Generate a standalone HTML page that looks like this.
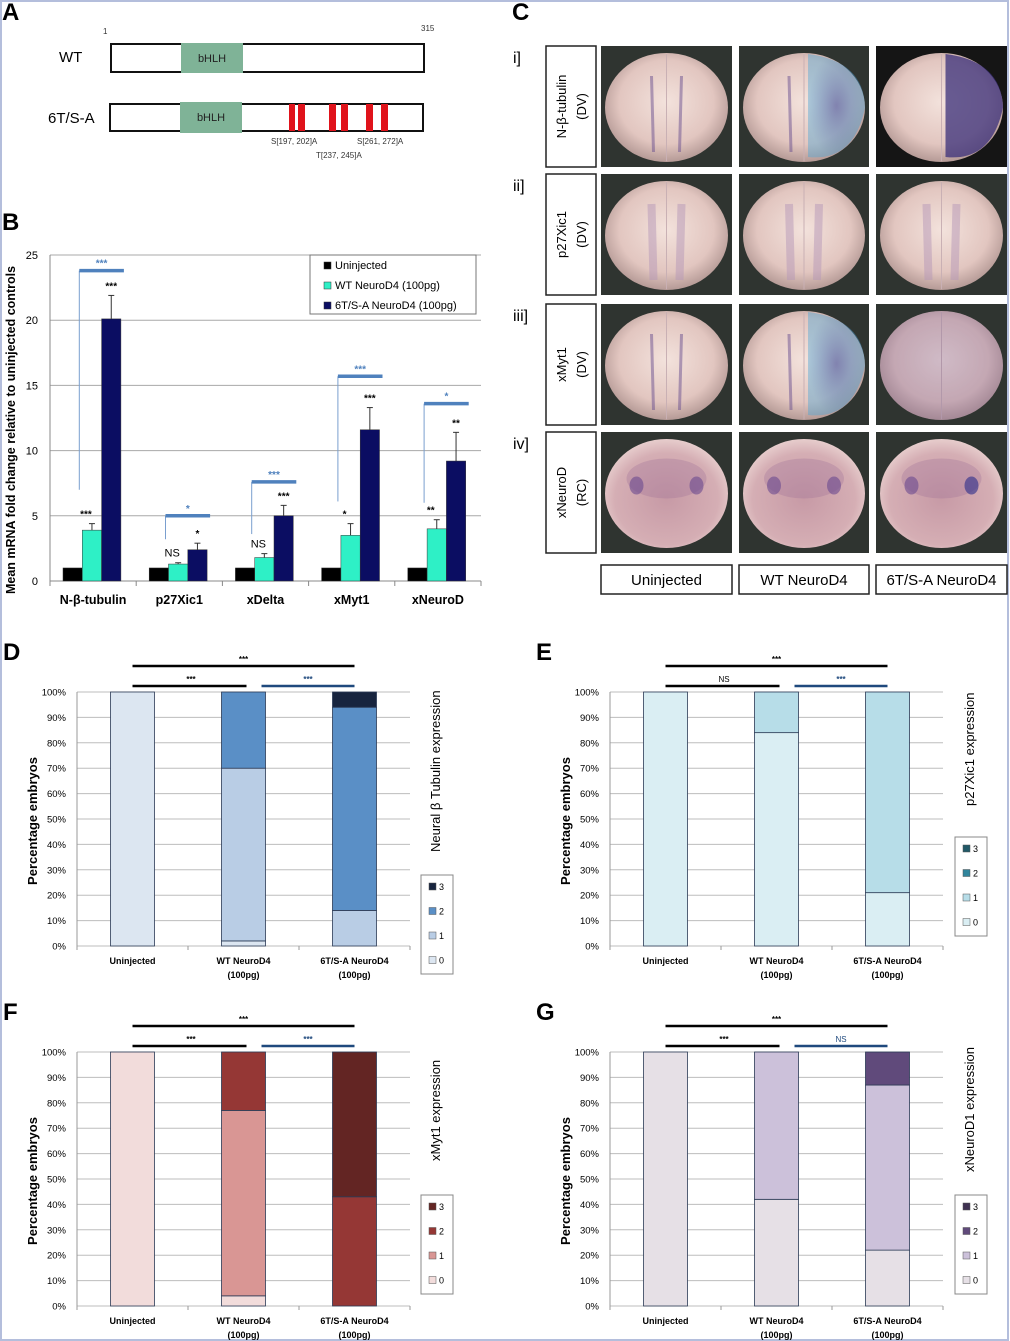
<!DOCTYPE html>
<html><head><meta charset="utf-8">
<style>
html,body{margin:0;padding:0;background:#fff;}
svg{display:block;font-family:"Liberation Sans",sans-serif;}
</style></head>
<body>
<svg id="fig" width="1010" height="1341" viewBox="0 0 1010 1341" xmlns="http://www.w3.org/2000/svg">
<defs>
<radialGradient id="emb" cx="0.5" cy="0.45" r="0.55">
<stop offset="0" stop-color="#f3e2dc"/><stop offset="0.7" stop-color="#e2c6c0"/><stop offset="1" stop-color="#b59a96"/>
</radialGradient>
<radialGradient id="embRC" cx="0.5" cy="0.55" r="0.6">
<stop offset="0" stop-color="#c79aa6"/><stop offset="0.7" stop-color="#d5aeb4"/><stop offset="1" stop-color="#eed9d6"/>
</radialGradient>
<radialGradient id="blu" cx="0.5" cy="0.5" r="0.5">
<stop offset="0" stop-color="#3c4f9e" stop-opacity="0.85"/><stop offset="1" stop-color="#4aa6d6" stop-opacity="0.6"/>
</radialGradient>
</defs>
<rect x="0" y="0" width="1010" height="1341" fill="#fff"/>
<rect x="1" y="1" width="1007" height="1339" fill="none" stroke="#b4bedc" stroke-width="2"/>

<!-- Panel A -->
<g>
<text x="2" y="20" font-size="24" font-weight="bold">A</text>
<text x="103" y="34" font-size="8" fill="#333">1</text>
<text x="421" y="31" font-size="8" fill="#333">315</text>
<text x="59" y="62" font-size="15">WT</text>
<rect x="111" y="44" width="313" height="28" fill="#fff" stroke="#111" stroke-width="2"/>
<rect x="181" y="43" width="62" height="30" fill="#7fb397"/>
<text x="212" y="62" font-size="11" text-anchor="middle" fill="#222">bHLH</text>
<text x="48" y="123" font-size="15">6T/S-A</text>
<rect x="110" y="104" width="313" height="27" fill="#fff" stroke="#111" stroke-width="2"/>
<rect x="180" y="102" width="62" height="31" fill="#7fb397"/>
<text x="211" y="121" font-size="11" text-anchor="middle" fill="#222">bHLH</text>
<g fill="#e0131b">
<rect x="289" y="104" width="6" height="27"/><rect x="298" y="104" width="7" height="27"/>
<rect x="329" y="104" width="7" height="27"/><rect x="341" y="104" width="7" height="27"/>
<rect x="366" y="104" width="7" height="27"/><rect x="381" y="104" width="7" height="27"/>
</g>
<text x="271" y="144" font-size="8" fill="#333">S[197, 202]A</text>
<text x="357" y="144" font-size="8" fill="#333">S[261, 272]A</text>
<text x="316" y="158" font-size="8" fill="#333">T[237, 245]A</text>
</g>

<!-- Panel B -->
<g id="panelB">
<text x="2" y="230" font-size="24" font-weight="bold">B</text>
</g>

<!-- Panel C -->
<g id="panelC">
<text x="512" y="20" font-size="24" font-weight="bold">C</text>
</g>

<g id="panelD"></g>
<g id="panelE"></g>
<g id="panelF"></g>
<g id="panelG"></g>
</svg>
<script>
// ---- Panel B data ----
const bCategories = ["N-β-tubulin","p27Xic1","xDelta","xMyt1","xNeuroD"];
const bSeriesNames = ["Uninjected","WT NeuroD4 (100pg)","6T/S-A NeuroD4 (100pg)"];
const bUninjected = [1,1,1,1,1];
const bWT = [3.9,1.3,1.8,3.5,4.0];
const bMutant = [20.1,2.4,5.0,11.6,9.2];
const bWTErr = [0.5,0.1,0.3,0.9,0.7];
const bMutantErr = [1.8,0.5,0.8,1.7,2.2];
const bWTSig = ["***","NS","NS","*","**"];
const bMutantSig = ["***","*","***","***","**"];
const bBracketSig = ["***","*","***","***","*"];
const bBracketLevel = [23.8,5.0,7.6,15.7,13.6];
const bBracketLow = [7.0,3.2,3.6,6.1,6.0];
const bTicks = [0,5,10,15,20,25];

// ---- Stacked data (levels 0..3 per group) ----
const groups = ["Uninjected","WT NeuroD4","6T/S-A NeuroD4"];
const dLevel0 = [100,2,0];  const dLevel1 = [0,68,14];  const dLevel2 = [0,30,80];  const dLevel3 = [0,0,6];
const eLevel0 = [100,84,21]; const eLevel1 = [0,16,79]; const eLevel2 = [0,0,0];   const eLevel3 = [0,0,0];
const fLevel0 = [100,4,0];  const fLevel1 = [0,73,0];  const fLevel2 = [0,23,43]; const fLevel3 = [0,0,57];
const gLevel0 = [100,42,22]; const gLevel1 = [0,58,65]; const gLevel2 = [0,0,13]; const gLevel3 = [0,0,0];
const pctTicks = [0,10,20,30,40,50,60,70,80,90,100];

const NS = "http://www.w3.org/2000/svg";
function el(tag, attrs, parent, txt){
  const e = document.createElementNS(NS, tag);
  for (const k in attrs) e.setAttribute(k, attrs[k]);
  if (txt !== undefined) e.textContent = txt;
  parent.appendChild(e);
  return e;
}

// ---------- Panel B ----------
(function(){
  const g = document.getElementById('panelB');
  const X0 = 50, X1 = 481, Y0 = 581, pxPerUnit = 13.04;
  const y = v => Y0 - v*pxPerUnit;
  const catW = (X1-X0)/bCategories.length;
  const barW = 19.3;
  const bx = (i,s) => X0 + i*catW + 13 + s*barW;
  bTicks.forEach(t=>{
    if (t>0) el('line',{x1:X0,x2:X1,y1:y(t),y2:y(t),stroke:'#a8a8a8','stroke-width':1},g);
    const tl = el('text',{x:X0-12,y:y(t)+4,'font-size':11,'text-anchor':'end'},g,String(t));
    
    
  });
  el('line',{x1:X0,x2:X0,y1:y(25),y2:Y0+4,stroke:'#888'},g);
  el('line',{x1:X0,x2:X1,y1:Y0,y2:Y0,stroke:'#888'},g);
  for (let i=0;i<=bCategories.length;i++) el('line',{x1:X0+i*catW,x2:X0+i*catW,y1:Y0,y2:Y0+5,stroke:'#888'},g);
  const series = [bUninjected,bWT,bMutant];
  const cols = ['#000','#2ef0c6','#0b0d62'];
  bCategories.forEach((c,i)=>{
    series.forEach((arr,s)=>{
      const r = el('rect',{x:bx(i,s),y:y(arr[i]),width:barW,height:arr[i]*pxPerUnit,fill:cols[s],stroke:'#333','stroke-width':0.5},g);
      
      
    });
    [[bWT,bWTErr,1],[bMutant,bMutantErr,2]].forEach(([arr,err,s])=>{
      const cx = bx(i,s)+barW/2;
      el('line',{x1:cx,x2:cx,y1:y(arr[i]),y2:y(arr[i]+err[i]),stroke:'#333'},g);
      el('line',{x1:cx-3,x2:cx+3,y1:y(arr[i]+err[i]),y2:y(arr[i]+err[i]),stroke:'#333'},g);
    });
    const w1 = el('text',{x:bx(i,1)+barW/2-6,y:y(bWT[i]+bWTErr[i])-6,'font-size':bWTSig[i]==='NS'?11:10,'font-weight':bWTSig[i]==='NS'?'normal':'bold','text-anchor':'middle'},g,bWTSig[i]);
    
    
    const w2 = el('text',{x:bx(i,2)+barW/2,y:y(bMutant[i]+bMutantErr[i])-6,'font-size':10,'font-weight':'bold','text-anchor':'middle'},g,bMutantSig[i]);
    
    
    const lx = bx(i,1)-3, rx = bx(i,2)+barW+3;
    el('line',{x1:lx,x2:lx,y1:y(bBracketLow[i]),y2:y(bBracketLevel[i]),stroke:'#7a9fcf','stroke-width':1},g);
    const br = el('line',{x1:lx,x2:rx,y1:y(bBracketLevel[i]),y2:y(bBracketLevel[i]),stroke:'#4f81bd','stroke-width':3.5},g);
    
    
    el('text',{x:(lx+rx)/2,y:y(bBracketLevel[i])-4,'font-size':10,'font-weight':'bold',fill:'#4f81bd','text-anchor':'middle'},g,bBracketSig[i]);
    const xl = el('text',{x:X0+i*catW+catW/2,y:604,'font-size':12.5,'font-weight':'bold','text-anchor':'middle'},g,c);
    
    
  });
  const yt = el('text',{x:0,y:0,'font-size':12.5,'font-weight':'bold','text-anchor':'middle',transform:'translate(15,430) rotate(-90)'},g,'Mean mRNA fold change relative to uninjected controls');
  
  
  const lg = el('g',{},g);
  
  
  el('rect',{x:310,y:255,width:166,height:59,fill:'#fff',stroke:'#777'},lg);
  bSeriesNames.forEach((n,s)=>{
    el('rect',{x:324,y:262+s*20,width:7,height:7,fill:cols[s],stroke:'#333','stroke-width':0.5},lg);
    el('text',{x:335,y:269+s*20,'font-size':11},lg,n);
  });
})();

// ---------- Panel C ----------
(function(){
  const g = document.getElementById('panelC');
  const rows = [{y:46,h:121,num:'i]',lab:'N-β-tubulin',sub:'(DV)'},{y:174,h:121,num:'ii]',lab:'p27Xic1',sub:'(DV)'},{y:304,h:121,num:'iii]',lab:'xMyt1',sub:'(DV)'},{y:432,h:121,num:'iv]',lab:'xNeuroD',sub:'(RC)'}];
  const cols = [{x:601,w:131},{x:739,w:130},{x:876,w:131}];
  rows.forEach((r,ri)=>{
    el('text',{x:513,y:r.y+17,'font-size':16},g,r.num);
    const b = el('rect',{x:546,y:r.y,width:50,height:r.h,fill:'#fff',stroke:'#222','stroke-width':1.5},g);
    
    
    el('text',{x:0,y:0,'font-size':13,'text-anchor':'middle',transform:`translate(${566},${r.y+r.h/2}) rotate(-90)`},g,r.lab);
    el('text',{x:0,y:0,'font-size':13,'text-anchor':'middle',transform:`translate(${586},${r.y+r.h/2}) rotate(-90)`},g,r.sub);
    cols.forEach((c,ci)=>{
      const im = el('g',{},g);
      
      
      el('rect',{x:c.x,y:r.y,width:c.w,height:r.h,fill:(ri===0&&ci===2)?'#151515':'#2f3430'},im);
      const cx=c.x+c.w/2, cy=r.y+r.h/2+1;
      el('ellipse',{cx:cx,cy:cy,rx:c.w/2-4,ry:r.h/2-6,fill:ri===3?'url(#embRC)':'url(#emb)'},im);
      if (ri<3){
        el('line',{x1:cx,x2:cx,y1:r.y+8,y2:r.y+r.h-6,stroke:'#c9b0b4','stroke-width':1},im);
        const sw = ri===1?8:3, col= ri===1?'#b597b8':'#6a4f90';
        if (!(ri!==1 && ci===2)) {
          el('line',{x1:cx-15,x2:cx-13,y1:r.y+30,y2:r.y+r.h-15,stroke:col,'stroke-width':sw,'stroke-opacity':0.5},im);
          if (ci===0 || ri===1) el('line',{x1:cx+15,x2:cx+13,y1:r.y+30,y2:r.y+r.h-15,stroke:col,'stroke-width':sw,'stroke-opacity':0.5},im);
        }
        if (ci>0 && ri!==1 && !(ri===2&&ci===2)){
          el('path',{d:`M${cx+4},${r.y+8} Q${cx+60},${r.y+15} ${c.x+c.w-4},${cy} Q${cx+50},${r.y+r.h-5} ${cx+4},${r.y+r.h-10} Z`,fill:ri===0&&ci===2?'#3a2f7a':'url(#blu)',opacity:ci===2?0.75:0.7},im);
        }
        if (ri===2 && ci===2) el('ellipse',{cx:cx,cy:cy,rx:c.w/2-4,ry:r.h/2-6,fill:'#7d5f96',opacity:0.3},im);
      } else {
        el('ellipse',{cx:cx,cy:cy-15,rx:40,ry:20,fill:'#9b6d95',opacity:0.3},im);
        el('ellipse',{cx:cx-30,cy:cy-8,rx:7,ry:9,fill:'#6b4a8f',opacity:0.6},im);
        el('ellipse',{cx:cx+30,cy:cy-8,rx:7,ry:9,fill:ci===2?'#2a2c8a':'#6b4a8f',opacity:0.6},im);
      }
    });
  });
  ['Uninjected','WT NeuroD4','6T/S-A NeuroD4'].forEach((t,ci)=>{
    const c = cols[ci];
    const b = el('rect',{x:c.x,y:565,width:c.w,height:29,fill:'#fff',stroke:'#222','stroke-width':1.5},g);
    
    
    el('text',{x:c.x+c.w/2,y:585,'font-size':15,'text-anchor':'middle'},g,t);
  });
})();

// ---------- Stacked panels ----------
function stacked(id, letter, ox, oy, levels, colors, sig, rightTitle, legX, legY, titleBottom){
  const g = document.getElementById(id);
  const L = ox+77, T = oy+692, H = 254, W = 333;
  const y = p => T + H - p/100*H;
  const catW = W/groups.length, bw = 44;
  el('text',{x:ox+3,y:oy+660,'font-size':24,'font-weight':'bold'},g,letter);
  pctTicks.forEach(t=>{
    el('line',{x1:L,x2:L+W,y1:y(t),y2:y(t),stroke:'#bdbdbd'},g);
    const tl = el('text',{x:L-11,y:y(t)+3.5,'font-size':9.5,'text-anchor':'end'},g,t+'%');
    
    
  });
  el('line',{x1:L,x2:L,y1:T,y2:T+H+4,stroke:'#999'},g);
  for (let i=0;i<=3;i++) el('line',{x1:L+i*catW,x2:L+i*catW,y1:T+H,y2:T+H+4,stroke:'#999'},g);
  groups.forEach((gr,i)=>{
    let acc=0;
    const x = L + i*catW + catW/2 - bw/2;
    levels.forEach((arr,lv)=>{
      const v = arr[i];
      if (v<=0) return;
      const r = el('rect',{x:x,y:y(acc+v),width:bw,height:v/100*H,fill:colors[lv],stroke:'#2b3a55','stroke-width':0.8},g);
      
      
      acc+=v;
    });
    const cx = L + i*catW + catW/2;
    el('text',{x:cx,y:T+H+18,'font-size':9,'font-weight':'bold','text-anchor':'middle'},g,gr);
    if (i>0) el('text',{x:cx,y:T+H+32,'font-size':9,'font-weight':'bold','text-anchor':'middle'},g,'(100pg)');
  });
  const c0 = L+catW/2, c1 = L+catW*1.5, c2 = L+catW*2.5;
  el('line',{x1:c0,x2:c2,y1:T-26,y2:T-26,stroke:'#000','stroke-width':2.5},g);
  el('text',{x:(c0+c2)/2,y:T-30,'font-size':8,'font-weight':'bold','text-anchor':'middle'},g,sig[0]);
  el('line',{x1:c0,x2:c1+3,y1:T-6,y2:T-6,stroke:'#000','stroke-width':2.5},g);
  el('text',{x:(c0+c1)/2+3,y:T-10,'font-size':8,'font-weight':sig[1]==='NS'?'normal':'bold','text-anchor':'middle'},g,sig[1]);
  el('line',{x1:c1+18,x2:c2,y1:T-6,y2:T-6,stroke:'#1f497d','stroke-width':2.5},g);
  el('text',{x:(c1+18+c2)/2,y:T-10,'font-size':8,'font-weight':sig[2]==='NS'?'normal':'bold',fill:'#1f497d','text-anchor':'middle'},g,sig[2]);
  const yt = el('text',{x:0,y:0,'font-size':13,'font-weight':'bold','text-anchor':'middle',transform:`translate(${ox+37},${T+H/2+2}) rotate(-90)`},g,'Percentage embryos');
  
  
  const rt = el('text',{x:0,y:0,'font-size':13,'text-anchor':'start',transform:`translate(${legX+19},${titleBottom}) rotate(-90)`},g,rightTitle);
  
  
  const lg = el('g',{},g);
  
  
  el('rect',{x:legX,y:legY,width:32,height:99,fill:'#fff',stroke:'#888'},lg);
  [3,2,1,0].forEach((lv,k)=>{
    el('rect',{x:legX+8,y:legY+8+k*24.5,width:7,height:7,fill:colors[lv],stroke:'#555','stroke-width':0.5},lg);
    el('text',{x:legX+18,y:legY+15+k*24.5,'font-size':9},lg,String(lv));
  });
}
stacked('panelD','D',0,0,[dLevel0,dLevel1,dLevel2,dLevel3],['#dce6f1','#b9cde5','#5a8fc6','#17243e'],['***','***','***'],'Neural β Tubulin expression',421,875,852);
stacked('panelE','E',533,0,[eLevel0,eLevel1,eLevel2,eLevel3],['#daeef3','#b7dde8','#31859c','#215967'],['***','NS','***'],'p27Xic1 expression',955,837,806);
stacked('panelF','F',0,360,[fLevel0,fLevel1,fLevel2,fLevel3],['#f2dcdb','#d99694','#953735','#632523'],['***','***','***'],'xMyt1 expression',421,1195,1161);
stacked('panelG','G',533,360,[gLevel0,gLevel1,gLevel2,gLevel3],['#e6e0e6','#ccc1da','#604a7b','#3f3151'],['***','***','NS'],'xNeuroD1 expression',955,1195,1172);
</script>
</body></html>
